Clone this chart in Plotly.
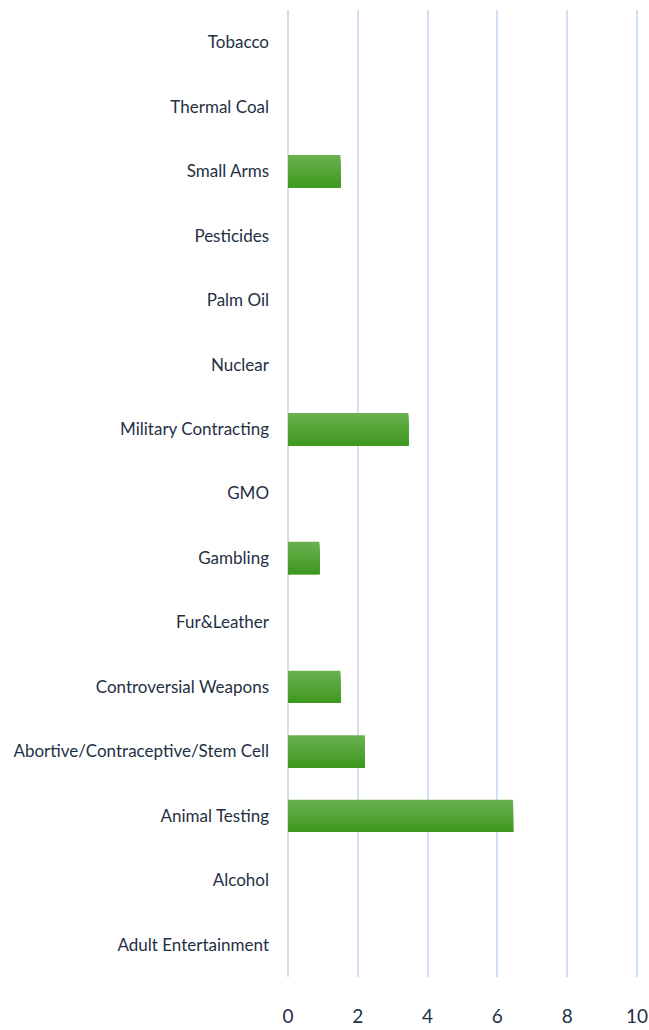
import plotly.graph_objects as go

categories = ["Tobacco", "Thermal Coal", "Small Arms", "Pesticides", "Palm Oil",
              "Nuclear", "Military Contracting", "GMO", "Gambling", "Fur&Leather",
              "Controversial Weapons", "Abortive/Contraceptive/Stem Cell",
              "Animal Testing", "Alcohol", "Adult Entertainment"]
values = [0, 0, 1.5, 0, 0, 0, 3.45, 0, 0.9, 0, 1.5, 2.2, 6.45, 0, 0]
tick_vals = [0, 2, 4, 6, 8, 10]

FONT = "Lato, Open Sans, sans-serif"
TXT = "#1f3044"

# gradient from light (top) to darker (bottom)
top_rgb = (106, 176, 80)
bot_rgb = (62, 152, 30)
n = 16
bar_w = 0.5
fig = go.Figure()
for i in range(n):
    t = i / (n - 1)
    c = tuple(round(top_rgb[k] + (bot_rgb[k] - top_rgb[k]) * t) for k in range(3))
    fig.add_trace(go.Bar(
        y=categories, x=values, orientation="h",
        width=bar_w - i * bar_w / n, offset=-bar_w / 2 + i * bar_w / n,
        marker=dict(color="rgb(%d,%d,%d)" % c, line=dict(width=0)),
        showlegend=False, hoverinfo="x+y"))

fig.update_layout(
    width=649, height=1030, barmode="overlay",
    margin=dict(l=288, r=11, t=10, b=53),
    paper_bgcolor="white", plot_bgcolor="white",
    font=dict(family=FONT, color=TXT, size=17),
    xaxis=dict(range=[0, 10.03], tickvals=tick_vals, showgrid=True,
               gridcolor="#cfe0f3", gridwidth=2, zeroline=True,
               zerolinecolor="#cfe0f3", zerolinewidth=2, showline=False,
               ticks="", ticklabelstandoff=26, tickfont=dict(size=19),
               automargin=False),
    yaxis=dict(autorange="reversed", showgrid=False, ticks="",
               ticklabelstandoff=18, tickfont=dict(size=17), automargin=False),
)
fig.write_html("out.html", config={"displayModeBar": False},
               post_script="document.body.style.margin='0';document.body.style.overflow='hidden';")
